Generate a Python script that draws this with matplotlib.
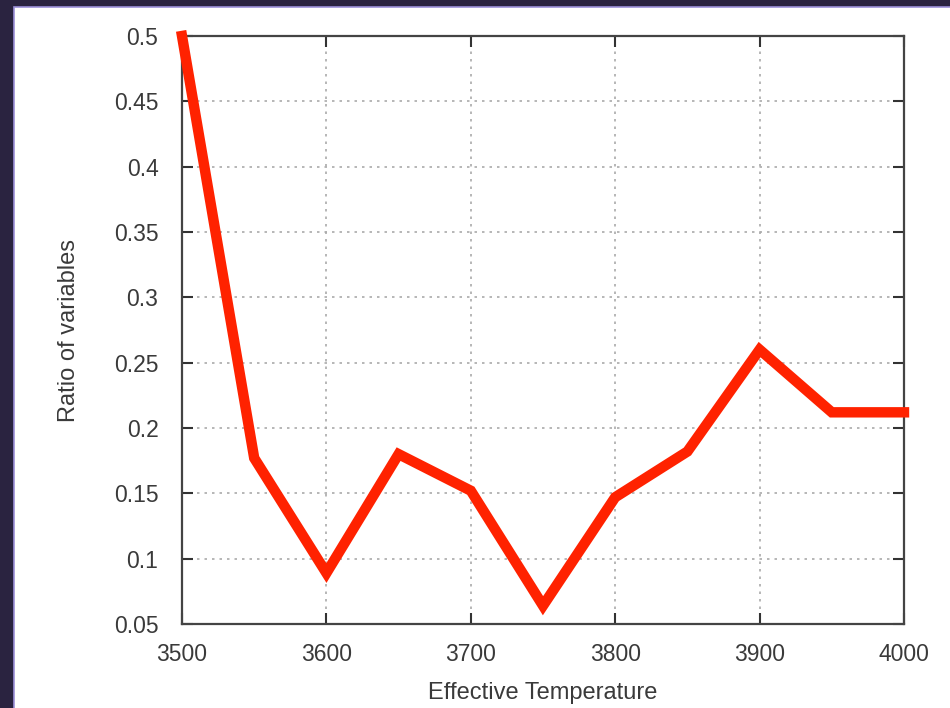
import matplotlib
matplotlib.use("Agg")
import matplotlib.pyplot as plt
import numpy as np
from matplotlib.patches import Rectangle

### Data
temps = [3500, 3550, 3600, 3650, 3700, 3750, 3800, 3850, 3900, 3950, 4000]
ratio = [0.5, 0.177, 0.089, 0.180, 0.152, 0.064, 0.147, 0.182, 0.260, 0.212, 0.212]

x_ticks = [3500, 3600, 3700, 3800, 3900, 4000]
y_ticks = [0.05, 0.1, 0.15, 0.2, 0.25, 0.3, 0.35, 0.4, 0.45, 0.5]

plt.rcParams['font.family'] = ['Liberation Sans', 'DejaVu Sans']

fig = plt.figure(figsize=(9.5, 7.08), dpi=100)
fig.patch.set_facecolor('#2a2340')

# white slide panel behind the axes
W, H = 950, 708
fig.patches.append(Rectangle((14 / W, -0.01), 1.0, 1.01 - 7 / H, transform=fig.transFigure,
                             facecolor='white', edgecolor='#9c90d8', linewidth=1.2, zorder=-5))

ax = fig.add_axes([182 / W, 1 - 624 / H, (904 - 182) / W, (624 - 36) / H])
ax.set_zorder(2)
ax.plot(temps, ratio, color='#ff2200', linewidth=7.5, solid_joinstyle='miter',
        solid_capstyle='projecting', clip_on=False, zorder=3)

ax.set_xlim(3500, 4000)
ax.set_ylim(0.05, 0.5)
ax.set_xticks(x_ticks)
ax.set_yticks(y_ticks)
ax.set_yticklabels([f"{v:g}" for v in y_ticks])
ax.grid(True, color='#aaaaaa', linestyle=(0, (1.5, 3)), linewidth=1.2)

for s in ax.spines.values():
    s.set_color('#444444')
    s.set_linewidth(1.6)

ax.tick_params(direction='in', length=8, width=1.5, color='#333333',
               top=True, right=True, labelsize=16.5, labelcolor='#3a3a3a')
ax.tick_params(axis='x', pad=14)
ax.tick_params(axis='y', pad=17)

ax.set_xlabel("Effective Temperature", fontsize=17, color='#3a3a3a', labelpad=11)
ax.set_ylabel("Ratio of variables", fontsize=17, color='#3a3a3a', labelpad=24)

fig.savefig("out.png", dpi=100, facecolor=fig.get_facecolor())
